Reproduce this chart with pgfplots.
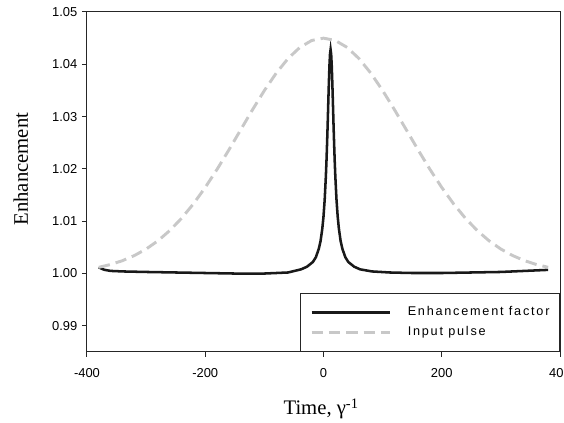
\documentclass[border=0pt]{standalone}
\usepackage{pgfplots}
\pgfplotsset{compat=1.18}
\usepackage{fontspec}
\setmainfont{Liberation Sans}
\newfontfamily\labelfont{Liberation Serif}
\newfontfamily\legfont[LetterSpace=14]{Liberation Sans}
\definecolor{pulsegray}{RGB}{200,200,200}
\definecolor{enhblack}{RGB}{25,25,25}
\begin{document}
\begin{tikzpicture}
\begin{axis}[
  at={(0,0)}, anchor=south west,
  scale only axis, width=354.75pt, height=255pt,
  xmin=-400, xmax=400, ymin=0.985, ymax=1.05,
  xtick={-400,-200,0,200,400},
  xticklabels={-400,-200,0,200,400},
  ytick={0.99,1.00,1.01,1.02,1.03,1.04,1.05},
  yticklabels={0.99,1.00,1.01,1.02,1.03,1.04,1.05},
  tick pos=left, tick align=outside,
  major tick length=3.75pt,
  tick style={black!85, line width=0.75pt},
  axis line style={black!85, line width=0.75pt},
  tick label style={font=\fontsize{9.7}{11}\selectfont},
  xticklabel style={yshift=-5pt},
  /pgf/number format/assume math mode=true,
  xlabel={Time, γ\textsuperscript{-1}},
  xlabel style={font=\labelfont\fontsize{15.5}{18}\selectfont, at={(axis description cs:0.495,-0.1853)}, anchor=base},
  ylabel={Enhancement},
  ylabel style={font=\labelfont\fontsize{15.5}{18}\selectfont, at={(axis description cs:-0.14,0.538)}, anchor=center},
  legend style={at={(1,0)}, anchor=south east, draw=black!85, line width=0.75pt, fill=white,
    font=\legfont\fontsize{9.5}{11}\selectfont,
    inner xsep=7.5pt, inner ysep=9.75pt, row sep=6pt, column sep=12.5pt,
    nodes={inner sep=0pt, text height=7pt, text depth=2pt}},
  legend cell align=left,
  legend image code/.code={\draw[#1] (0pt,0pt) -- (58.5pt,0pt);},
]
\addplot[enhblack, line width=1.9pt] coordinates {
(-380,1.0012) (-375,1.0009) (-370,1.0007) (-360,1.0005) (-340,1.0004) (-300,1.0003)
(-250,1.0002) (-200,1.0001) (-150,1.0000) (-100,1.0000) (-60,1.0002) (-38,1.0008)
(-28,1.0013) (-18,1.0022) (-13,1.0031) (-8,1.0047) (-5,1.0062) (-2,1.0086)
(0,1.0109) (2,1.0141) (4,1.0186) (5,1.0214) (6,1.0247) (7,1.0283) (8,1.0323)
(9,1.0362) (10,1.0396) (11,1.0419) (12,1.0428) (13,1.0419) (14,1.0396) (15,1.0362)
(16,1.0323) (17,1.0283) (18,1.0247) (19,1.0214) (20,1.0186) (22,1.0141) (24,1.0109)
(26,1.0086) (29,1.0062) (32,1.0047) (37,1.0031) (42,1.0022) (52,1.0013) (62,1.0008)
(82,1.0004) (112,1.0002) (150,1.0001) (200,1.0001) (250,1.0002) (300,1.0003)
(340,1.0005) (380,1.0007)
};
\addlegendentry{Enhancement factor}
\addplot[pulsegray, line width=2.2pt, dash pattern=on 8.5pt off 4.5pt] coordinates {
(-380,1.00119) (-360,1.00173) (-340,1.00246) (-320,1.00343) (-300,1.00468)
(-280,1.00626) (-260,1.00822) (-240,1.01057) (-220,1.01332) (-200,1.01646)
(-180,1.01992) (-160,1.02364) (-140,1.02749) (-120,1.03133) (-100,1.03499)
(-80,1.03831) (-60,1.04110) (-40,1.04323) (-20,1.04455) (0,1.04500)
(20,1.04455) (40,1.04323) (60,1.04110) (80,1.03831) (100,1.03499)
(120,1.03133) (140,1.02749) (160,1.02364) (180,1.01992) (200,1.01646)
(220,1.01332) (240,1.01057) (260,1.00822) (280,1.00626) (300,1.00468)
(320,1.00343) (340,1.00246) (360,1.00173) (380,1.00119)
};
\addlegendentry{Input pulse}
\end{axis}
\pgfresetboundingbox
\useasboundingbox (-65.25pt,-53.25pt) rectangle (357.75pt,264pt);
\end{tikzpicture}
\end{document}
